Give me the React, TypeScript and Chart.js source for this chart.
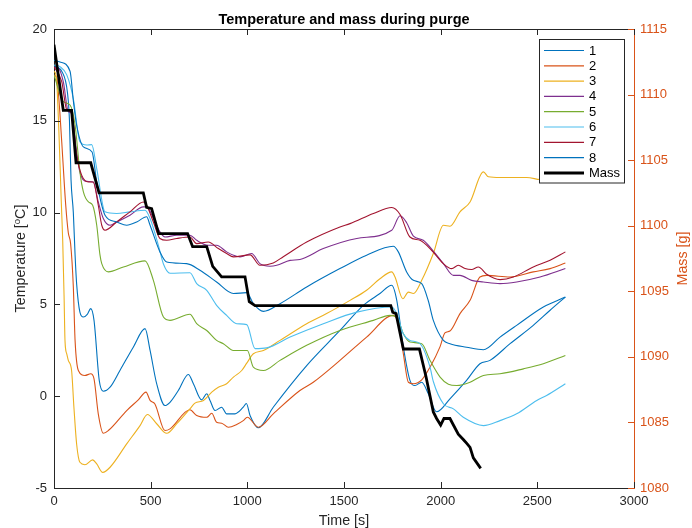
import React, { useEffect, useRef } from 'react';
import { Chart, registerables } from 'chart.js';

Chart.register(...registerables);

// ---------- data ----------
const seriesNames = ['1', '2', '3', '4', '5', '6', '7', '8'];
const seriesColors = ['#0072BD', '#D95319', '#EDB120', '#7E2F8E', '#77AC30', '#4DBEEE', '#A2142F', '#0072BD'];

const t1 = [0, 40, 70, 80, 88, 100, 109, 117, 134, 152, 172, 190, 207, 234, 255, 290, 341, 410, 471, 497, 531, 574, 600, 643, 695, 721, 764, 790, 807, 833, 867, 893, 936, 979, 995, 1014, 1057, 1134, 1307, 1479, 1600, 1686, 1747, 1773, 1807, 1841, 1867, 1902, 1936, 1979, 2048, 2134, 2203, 2255, 2359, 2479, 2566, 2645];
const s1 = [18.0, 17.7, 16.5, 15.0, 11.8, 10.0, 7.7, 6.13, 4.58, 4.31, 4.46, 4.77, 4.13, 0.86, 0.27, 0.49, 1.4, 2.67, 3.68, 2.49, 0.68, -0.51, -0.33, 0.31, 1.18, 0.68, -0.2, 0.13, -0.23, -0.78, -0.6, -0.96, -0.96, -0.6, -0.4, -1.05, -1.72, -0.6, 1.67, 3.58, 4.95, 5.59, 6.04, 5.22, 2.67, 0.86, 0.58, 0.76, 0.13, -0.85, -0.14, 0.86, 1.77, 1.95, 2.86, 3.86, 4.68, 5.4];

const t2 = [0, 15, 30, 45, 60, 74, 86, 100, 109, 126, 160, 190, 207, 229, 255, 281, 376, 436, 476, 497, 522, 574, 600, 703, 738, 790, 816, 841, 867, 902, 945, 979, 1000, 1057, 1134, 1272, 1341, 1479, 1617, 1755, 1781, 1807, 1833, 1859, 1902, 1945, 1997, 2022, 2048, 2100, 2152, 2203, 2238, 2359, 2479, 2566, 2645];
const s2 = [17.5, 17.3, 15.5, 13.0, 10.5, 8.9, 8.3, 5.95, 3.04, 1.4, 1.13, 1.22, 0.95, -0.96, -2.02, -1.87, -0.78, -0.2, 0.22, -0.23, -0.42, -1.87, -1.78, -0.74, -1.05, -1.15, -0.93, -1.42, -1.47, -1.69, -1.54, -1.33, -1.15, -1.69, -0.96, 0.31, 0.76, 1.95, 3.22, 4.4, 3.95, 2.31, 0.76, 0.68, 0.89, 1.58, 2.7, 3.45, 3.55, 4.5, 5.22, 6.49, 6.58, 6.49, 6.77, 6.95, 7.26];

const t3 = [0, 12, 25, 38, 45, 52, 57, 66, 74, 91, 103, 117, 134, 160, 200, 221, 252, 290, 376, 445, 483, 531, 583, 635, 703, 729, 773, 816, 850, 893, 928, 971, 997, 1031, 1083, 1169, 1307, 1410, 1531, 1617, 1686, 1747, 1764, 1804, 1833, 1859, 1902, 1962, 2014, 2048, 2100, 2152, 2221, 2247, 2307, 2445, 2514, 2645];
const s3 = [17.7, 17.4, 14.5, 10.5, 8.5, 5.5, 3.0, 2.3, 1.95, 1.4, -0.6, -2.6, -3.6, -3.73, -3.47, -3.69, -4.15, -3.87, -2.6, -1.6, -1.0, -1.5, -2.02, -1.5, -0.69, -0.38, -0.23, 0.22, 0.49, 0.68, 1.04, 1.4, 1.8, 2.31, 2.49, 3.04, 3.95, 4.5, 5.22, 5.77, 6.4, 6.77, 6.49, 5.31, 5.67, 5.59, 6.31, 7.77, 9.31, 9.26, 10.04, 10.58, 12.22, 11.95, 11.91, 11.91, 11.8, 11.75];

const t4 = [0, 22, 48, 74, 91, 117, 134, 169, 203, 229, 255, 290, 324, 393, 462, 479, 514, 548, 574, 635, 703, 738, 798, 841, 893, 928, 962, 1022, 1065, 1117, 1152, 1221, 1272, 1393, 1566, 1747, 1790, 1824, 1859, 1910, 1962, 2014, 2066, 2100, 2160, 2221, 2307, 2393, 2514, 2645];
const s4 = [17.9, 17.86, 17.13, 15.5, 15.4, 13.3, 12.2, 11.7, 11.67, 10.58, 9.68, 9.31, 9.49, 9.86, 10.31, 10.31, 9.68, 8.95, 8.67, 8.77, 8.77, 8.49, 8.22, 8.22, 7.86, 7.68, 7.59, 7.77, 7.22, 7.08, 7.13, 7.4, 7.45, 8.04, 8.59, 9.04, 9.83, 9.45, 8.72, 8.49, 7.9, 7.22, 6.58, 6.58, 6.31, 6.22, 6.13, 6.22, 6.49, 6.95];

const t5 = [0, 48, 83, 109, 134, 152, 178, 200, 221, 238, 247, 281, 359, 471, 514, 566, 600, 703, 738, 790, 841, 876, 928, 971, 1000, 1031, 1083, 1169, 1307, 1479, 1652, 1738, 1773, 1807, 1841, 1902, 1945, 1997, 2040, 2083, 2152, 2221, 2307, 2428, 2531, 2645];
const s5 = [17.5, 16.04, 15.86, 14.77, 12.22, 11.13, 10.58, 10.4, 9.31, 7.68, 7.22, 6.77, 7.04, 7.37, 6.31, 4.31, 4.13, 4.46, 3.95, 3.58, 3.04, 2.86, 2.49, 2.49, 2.49, 1.58, 1.4, 1.95, 2.77, 3.58, 4.13, 4.4, 4.31, 3.4, 2.95, 2.86, 1.95, 1.04, 0.65, 0.58, 0.76, 1.13, 1.22, 1.49, 1.77, 2.22];

const t6 = [0, 31, 66, 100, 134, 169, 195, 221, 264, 324, 393, 471, 497, 540, 566, 600, 703, 738, 790, 841, 893, 945, 997, 1040, 1100, 1221, 1393, 1566, 1747, 1773, 1807, 1841, 1893, 1945, 1962, 2014, 2066, 2117, 2221, 2307, 2393, 2497, 2548, 2645];
const s6 = [18.04, 17.95, 17.5, 16.2, 13.86, 13.68, 13.7, 12.4, 10.04, 9.95, 10.04, 10.13, 9.68, 8.22, 7.2, 6.7, 6.72, 6.13, 5.77, 4.95, 4.4, 3.95, 3.9, 2.59, 2.63, 3.22, 3.95, 4.58, 4.86, 4.49, 3.4, 3.04, 2.86, 1.58, 0.8, -0.41, -0.69, -1.15, -1.6, -1.33, -0.96, -0.23, 0.04, 0.68];

const t7 = [0, 40, 66, 91, 117, 143, 178, 203, 229, 247, 264, 324, 393, 462, 479, 514, 548, 583, 635, 703, 738, 798, 850, 893, 928, 1014, 1065, 1134, 1186, 1307, 1479, 1531, 1652, 1747, 1790, 1841, 1893, 1953, 2014, 2057, 2091, 2126, 2160, 2195, 2238, 2307, 2376, 2479, 2566, 2645];
const s7 = [17.95, 17.13, 15.6, 15.46, 13.13, 12.04, 11.67, 11.67, 10.4, 9.31, 9.04, 9.49, 10.04, 10.58, 10.4, 9.49, 8.59, 8.49, 8.59, 8.67, 8.31, 8.4, 8.04, 7.77, 7.59, 7.7, 7.13, 7.26, 7.6, 8.4, 9.22, 9.4, 9.95, 10.28, 9.9, 8.67, 8.49, 7.95, 7.22, 6.95, 7.13, 6.95, 6.9, 7.04, 6.64, 6.35, 6.49, 7.04, 7.4, 7.86];

const t8 = [0, 31, 83, 100, 117, 152, 197, 221, 264, 324, 376, 428, 479, 497, 548, 583, 686, 755, 841, 928, 997, 1031, 1083, 1169, 1307, 1479, 1617, 1755, 1781, 1824, 1859, 1902, 1936, 1962, 2014, 2048, 2134, 2221, 2307, 2393, 2531, 2645];
const s8 = [18.3, 18.2, 17.7, 16.1, 14.77, 13.58, 13.3, 11.67, 9.86, 9.49, 9.31, 9.49, 9.77, 9.31, 7.86, 7.31, 7.22, 6.86, 6.22, 5.59, 5.64, 5.04, 4.62, 5.04, 5.95, 6.95, 7.68, 8.17, 7.86, 6.77, 6.31, 6.13, 5.2, 4.13, 3.04, 2.86, 2.67, 2.53, 3.22, 3.86, 4.86, 5.4];

const tMass = [0, 48, 91, 114, 190, 233, 462, 479, 505, 541, 691, 717, 790, 821, 867, 988, 1010, 1040, 1742, 1752, 1769, 1807, 1890, 1924, 1962, 1979, 2000, 2017, 2048, 2091, 2117, 2135, 2152, 2169, 2207];
const mass = [1113.8, 1108.8, 1108.8, 1104.8, 1104.8, 1102.5, 1102.5, 1101.4, 1101.3, 1099.4, 1099.4, 1098.4, 1098.4, 1096.9, 1096.1, 1096.1, 1094.2, 1093.9, 1093.9, 1093.4, 1093.3, 1090.6, 1090.6, 1088.5, 1085.8, 1085.3, 1084.8, 1085.3, 1085.3, 1084.1, 1083.7, 1083.4, 1083.1, 1082.3, 1081.5];

const xTicks = [0, 500, 1000, 1500, 2000, 2500, 3000];
const yTicks = [-5, 0, 5, 10, 15, 20];
const y1Ticks = [1080, 1085, 1090, 1095, 1100, 1105, 1110, 1115];

const titleText = 'Temperature and mass during purge';
const xTitle = 'Time [s]';
const y1Title = 'Mass [g]';
const massLabel = 'Mass';

// ---------- style ----------
const FONT = '"Liberation Sans", Arial, Helvetica, sans-serif';
const AX = '#262626';
const ORANGE = '#D95319';

const timesList = [t1, t2, t3, t4, t5, t6, t7, t8];
const valuesList = [s1, s2, s3, s4, s5, s6, s7, s8];

const pts = (ts: number[], vs: number[]) => ts.map((t, i) => ({ x: t, y: vs[i] }));
const plain = (v: any) => String(v);

const decor = {
  id: 'decor',
  afterDatasetsDraw(chart: any) {
    const { ctx, chartArea: a, scales } = chart;
    ctx.save();
    ctx.lineWidth = 1;
    // top frame line
    ctx.strokeStyle = AX;
    ctx.beginPath();
    ctx.moveTo(a.left, a.top + 0.5);
    ctx.lineTo(a.right, a.top + 0.5);
    ctx.stroke();
    // x ticks (bottom & top, inward)
    ctx.beginPath();
    xTicks.forEach((v) => {
      const px = Math.round(scales.x.getPixelForValue(v)) + 0.5;
      ctx.moveTo(px, a.bottom);
      ctx.lineTo(px, a.bottom - 6);
      ctx.moveTo(px, a.top);
      ctx.lineTo(px, a.top + 6);
    });
    // left ticks
    yTicks.forEach((v) => {
      const py = Math.round(scales.y.getPixelForValue(v)) + 0.5;
      ctx.moveTo(a.left, py);
      ctx.lineTo(a.left + 6, py);
    });
    ctx.stroke();
    // right ticks (orange)
    ctx.strokeStyle = ORANGE;
    ctx.beginPath();
    y1Ticks.forEach((v) => {
      const py = Math.round(scales.y1.getPixelForValue(v)) + 0.5;
      ctx.moveTo(a.right, py);
      ctx.lineTo(a.right - 6, py);
    });
    ctx.stroke();

    // legend
    const lx = 539.5, ly = 39.5, lw = 85, lh = 143.5;
    ctx.fillStyle = '#ffffff';
    ctx.fillRect(lx, ly, lw, lh);
    ctx.strokeStyle = AX;
    ctx.lineWidth = 1;
    ctx.strokeRect(lx, ly, lw, lh);
    const names = [...seriesNames, massLabel];
    const colors = [...seriesColors, '#000000'];
    ctx.font = `13px ${FONT}`;
    ctx.textBaseline = 'middle';
    ctx.textAlign = 'left';
    names.forEach((n, i) => {
      const yy = 50.5 + i * 15.3;
      ctx.strokeStyle = colors[i];
      ctx.lineWidth = i === 8 ? 3 : 1.2;
      ctx.beginPath();
      ctx.moveTo(544, yy);
      ctx.lineTo(584, yy);
      ctx.stroke();
      ctx.fillStyle = '#000000';
      ctx.fillText(n, 589, yy + 0.5);
    });

    // title
    ctx.fillStyle = '#000000';
    ctx.font = `bold 14.5px ${FONT}`;
    ctx.textAlign = 'center';
    ctx.textBaseline = 'alphabetic';
    ctx.fillText(titleText, (a.left + a.right) / 2, 23.5);

    // x title
    ctx.fillStyle = AX;
    ctx.font = `14.3px ${FONT}`;
    ctx.textBaseline = 'middle';
    ctx.fillText(xTitle, (a.left + a.right) / 2, 521);

    const midY = (a.top + a.bottom) / 2;
    // y title with superscript
    ctx.save();
    ctx.translate(21.5, midY);
    ctx.rotate(-Math.PI / 2);
    ctx.textAlign = 'left';
    const big = `14.3px ${FONT}`;
    const small = `9.5px ${FONT}`;
    ctx.font = big;
    const p1 = 'Temperature [';
    const p3 = 'C]';
    const w1 = ctx.measureText(p1).width;
    const w3 = ctx.measureText(p3).width;
    ctx.font = small;
    const w2 = ctx.measureText('o').width;
    const total = w1 + w2 + w3;
    let x0 = -total / 2;
    ctx.font = big;
    ctx.fillText(p1, x0, 0);
    x0 += w1;
    ctx.font = small;
    ctx.fillText('o', x0, -4.5);
    x0 += w2;
    ctx.font = big;
    ctx.fillText(p3, x0, 0);
    ctx.restore();

    // right title
    ctx.save();
    ctx.translate(683.5, midY);
    ctx.rotate(-Math.PI / 2);
    ctx.textAlign = 'center';
    ctx.fillStyle = ORANGE;
    ctx.font = `14.3px ${FONT}`;
    ctx.fillText(y1Title, 0, 0);
    ctx.restore();

    ctx.restore();
  },
};

export default function App() {
  const ref = useRef<HTMLCanvasElement | null>(null);

  useEffect(() => {
    if (!ref.current) return;
    const datasets: any[] = seriesNames.map((name, i) => ({
      label: name,
      data: pts(timesList[i], valuesList[i]),
      borderColor: seriesColors[i],
      backgroundColor: seriesColors[i],
      borderWidth: 1.1,
      pointRadius: 0,
      cubicInterpolationMode: 'monotone',
      yAxisID: 'y',
      order: 10 - i,
    }));
    datasets.push({
      label: massLabel,
      data: pts(tMass, mass),
      borderColor: '#000000',
      backgroundColor: '#000000',
      borderWidth: 2.8,
      pointRadius: 0,
      tension: 0,
      yAxisID: 'y1',
      order: 0,
    });

    const tickFont = { family: FONT, size: 13 };
    const chart = new Chart(ref.current, {
      type: 'line',
      data: { datasets },
      plugins: [decor],
      options: {
        responsive: false,
        animation: false,
        devicePixelRatio: 1,
        layout: { padding: { top: 29, left: 0, right: 0, bottom: 0 } },
        plugins: { legend: { display: false }, tooltip: { enabled: false }, title: { display: false } },
        scales: {
          x: {
            type: 'linear',
            min: 0,
            max: 3000,
            afterFit: (s: any) => { s.height = 40; },
            afterBuildTicks: (s: any) => { s.ticks = xTicks.map((v) => ({ value: v })); },
            ticks: { font: tickFont, color: AX, padding: 6, autoSkip: false, maxRotation: 0, callback: plain },
            grid: { drawOnChartArea: false, drawTicks: false },
            border: { color: AX, width: 1 },
          },
          y: {
            type: 'linear',
            position: 'left',
            min: -5,
            max: 20,
            afterFit: (s: any) => { s.width = 54; },
            afterBuildTicks: (s: any) => { s.ticks = yTicks.map((v) => ({ value: v })); },
            ticks: { font: tickFont, color: AX, padding: 7, autoSkip: false, callback: plain },
            grid: { drawOnChartArea: false, drawTicks: false },
            border: { color: AX, width: 1 },
          },
          y1: {
            type: 'linear',
            position: 'right',
            min: 1080,
            max: 1115,
            afterFit: (s: any) => { s.width = 58; },
            afterBuildTicks: (s: any) => { s.ticks = y1Ticks.map((v) => ({ value: v })); },
            ticks: { font: tickFont, color: ORANGE, padding: 6, autoSkip: false, callback: plain },
            grid: { drawOnChartArea: false, drawTicks: false },
            border: { color: ORANGE, width: 1 },
          },
        },
      } as any,
    });
    return () => chart.destroy();
  }, []);

  return (
    <canvas
      ref={ref}
      width={692}
      height={528}
      style={{ position: 'absolute', left: 0, top: 0, width: 692, height: 528, background: '#ffffff' }}
    />
  );
}
